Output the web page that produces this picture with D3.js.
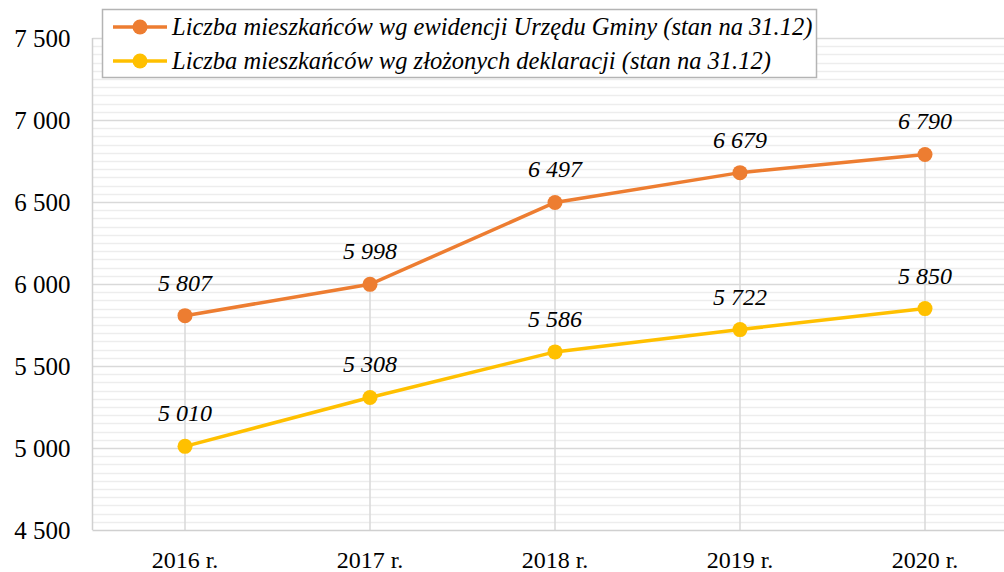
<!DOCTYPE html>
<meta charset="utf-8">
<style>
body { margin: 0; background: #fff; }
text { font-family: "Liberation Serif", "DejaVu Serif", serif; fill: #000; }
.tick text { font-size: 25px; }
.xax .tick text { font-size: 24px; }
.lbl { font-size: 24px; font-style: italic; }
.leg { font-size: 24.5px; font-style: italic; }
</style>
<svg></svg>
<script src="https://cdn.jsdelivr.net/npm/d3@7"></script>
<script>

var years = ["2016 r.", "2017 r.", "2018 r.", "2019 r.", "2020 r."];
var ewidencja = [5807, 5998, 6497, 6679, 6790];
var deklaracje = [5010, 5308, 5586, 5722, 5850];
var seriesNames = [
  "Liczba mieszkańców wg ewidencji Urzędu Gminy (stan na 31.12)",
  "Liczba mieszkańców wg złożonych deklaracji (stan na 31.12)"
];
var colors = ["#ED7D31", "#FFC000"];

var width = 1004, height = 572;
var plotLeft = 92.5, plotRight = 1017.5, plotTop = 38, plotBottom = 530;

var svg = d3.select("svg")
    .attr("width", width)
    .attr("height", height);

var x = d3.scaleBand().domain(years).range([plotLeft, plotRight]);
var y = d3.scaleLinear().domain([4500, 7500]).range([plotBottom, plotTop]);

var fmt = function(v) { return d3.format(",")(v).replace(",", " "); };
var cx = function(i) { return x(years[i]) + x.bandwidth() / 2; };

// minor grid
svg.append("g")
  .selectAll("line")
  .data(d3.range(4550, 7500, 50).filter(function(v) { return v % 500 != 0; }))
  .enter().append("line")
    .attr("x1", plotLeft).attr("x2", plotRight)
    .attr("y1", function(d) { return Math.round(y(d)) + 0.5; })
    .attr("y2", function(d) { return Math.round(y(d)) + 0.5; })
    .attr("stroke", "#ededed").attr("stroke-width", 1.5);

// major grid
svg.append("g")
  .selectAll("line")
  .data(d3.range(5000, 7501, 500))
  .enter().append("line")
    .attr("x1", plotLeft).attr("x2", plotRight)
    .attr("y1", function(d) { return Math.round(y(d)) + 0.5; })
    .attr("y2", function(d) { return Math.round(y(d)) + 0.5; })
    .attr("stroke", "#d9d9d9").attr("stroke-width", 1.5);

// drop lines
svg.append("g")
  .selectAll("line")
  .data(years)
  .enter().append("line")
    .attr("x1", function(d, i) { return cx(i); })
    .attr("x2", function(d, i) { return cx(i); })
    .attr("y1", function(d, i) { return y(Math.max(ewidencja[i], deklaracje[i])); })
    .attr("y2", plotBottom)
    .attr("stroke", "#d9d9d9").attr("stroke-width", 1.5);

// axis lines
svg.append("line")
    .attr("x1", plotLeft).attr("x2", plotLeft).attr("y1", plotTop).attr("y2", plotBottom)
    .attr("stroke", "#d0d0d0").attr("stroke-width", 1.5);
svg.append("line")
    .attr("x1", plotLeft).attr("x2", plotRight).attr("y1", plotBottom + 0.5).attr("y2", plotBottom + 0.5)
    .attr("stroke", "#d0d0d0").attr("stroke-width", 1.5);

var yAxis = svg.append("g")
    .attr("transform", "translate(" + (plotLeft - 22) + ",0)")
    .call(d3.axisLeft(y).tickValues(d3.range(4500, 7501, 500)).tickFormat(fmt).tickSize(0).tickPadding(0));
yAxis.select(".domain").remove();

var xAxis = svg.append("g")
    .attr("class", "xax")
    .attr("transform", "translate(0," + (plotBottom + 21) + ")")
    .call(d3.axisBottom(x).tickSize(0).tickPadding(0));
xAxis.select(".domain").remove();

var line = d3.line()
    .x(function(d, i) { return cx(i); })
    .y(function(d) { return y(d); });

[ewidencja, deklaracje].forEach(function(data, s) {
  var g = svg.append("g");
  g.append("path")
      .datum(data)
      .attr("d", line)
      .attr("fill", "none")
      .attr("stroke", colors[s])
      .attr("stroke-width", 3.5);
  g.selectAll("circle")
    .data(data)
    .enter().append("circle")
      .attr("cx", function(d, i) { return cx(i); })
      .attr("cy", function(d) { return y(d); })
      .attr("r", 7.5)
      .attr("fill", colors[s]);
  g.selectAll("text")
    .data(data)
    .enter().append("text")
      .attr("class", "lbl")
      .attr("text-anchor", "middle")
      .attr("x", function(d, i) { return cx(i); })
      .attr("y", function(d) { return y(d) - 25; })
      .text(fmt);
});

// legend
var legend = svg.append("g");
legend.append("rect")
    .attr("x", 102.5).attr("y", 9.5).attr("width", 714).attr("height", 68)
    .attr("fill", "#fff").attr("stroke", "#b4b4b4").attr("stroke-width", 1.5);
var item = legend.selectAll("g.item")
  .data(seriesNames)
  .enter().append("g")
    .attr("class", "item")
    .attr("transform", function(d, i) { return "translate(0," + (27 + i * 34) + ")"; });
item.append("line")
    .attr("x1", 113).attr("x2", 167)
    .attr("stroke", function(d, i) { return colors[i]; })
    .attr("stroke-width", 3.5);
item.append("circle")
    .attr("cx", 140).attr("r", 7.5)
    .attr("fill", function(d, i) { return colors[i]; });
item.append("text")
    .attr("class", "leg")
    .attr("x", 172).attr("dy", "0.33em")
    .text(function(d) { return d; });

</script>
